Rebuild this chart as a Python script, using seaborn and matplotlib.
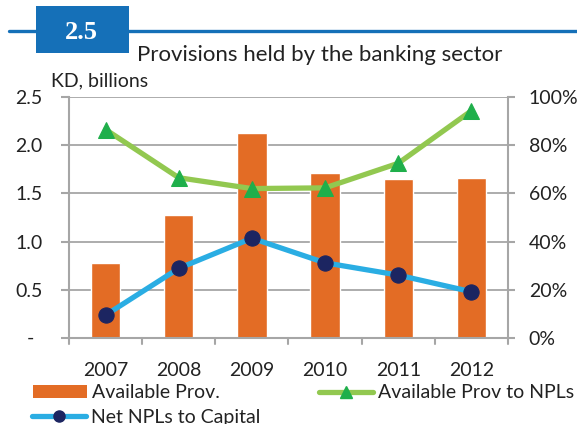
import matplotlib
matplotlib.use("Agg")
import matplotlib.pyplot as plt
import seaborn as sns
import pandas as pd
from matplotlib.patches import Rectangle
from matplotlib.lines import Line2D
from matplotlib.ticker import FuncFormatter

years = ["2007", "2008", "2009", "2010", "2011", "2012"]
available_prov = [0.78, 1.28, 2.13, 1.71, 1.65, 1.66]
prov_to_npls = [86.5, 66.5, 62.0, 62.3, 72.5, 94.3]
net_npls_to_capital = [9.5, 28.9, 41.4, 31.2, 26.1, 19.2]
left_ticks = [0.0, 0.5, 1.0, 1.5, 2.0, 2.5]
right_ticks = [0, 20, 40, 60, 80, 100]

df = pd.DataFrame({"year": years, "prov": available_prov,
                   "ratio": prov_to_npls, "npl": net_npls_to_capital})

sns.set_style("white")
FONT = "Lato"
plt.rcParams["font.family"] = [FONT, "DejaVu Sans"]

ORANGE = "#E36C25"
GREEN_L = "#92C850"
GREEN_M = "#1FAF4B"
BLUE_L = "#2AADE3"
NAVY = "#1C2561"
GRID = "#A6A6A6"
TXT = "#222222"
W, H = 577, 424

def fx(px):
    return px / W

def fy(py):
    return 1 - py / H

fig = plt.figure(figsize=(5.77, 4.24), dpi=100)
ax = fig.add_axes([fx(69), fy(338), (508 - 69) / W, (338 - 97) / H])

sns.barplot(data=df, x="year", y="prov", color=ORANGE, width=0.4,
            saturation=1, ax=ax, zorder=2)
ax.set_xlim(-0.5, 5.5)
ax.set_ylim(0, 2.5)
ax.set_yticks(left_ticks)
ax.set_yticklabels(["" if t == 0 else f"{t:.1f}" for t in left_ticks])
ax.grid(axis="y", color=GRID, linewidth=1.3, zorder=0)
ax.set_axisbelow(True)
ax.set_xlabel("")
ax.set_ylabel("")
# zero label shown as a dash, as in accounting format
fig.text(fx(30), fy(338), "-", fontsize=14, color=TXT, ha="center",
         va="center")

ax2 = ax.twinx()
sns.lineplot(data=df, x="year", y="ratio", ax=ax2, color=GREEN_L, linewidth=3.8,
             marker="^", markersize=11, markerfacecolor=GREEN_M,
             markeredgecolor=GREEN_M, zorder=3)
sns.lineplot(data=df, x="year", y="npl", ax=ax2, color=BLUE_L, linewidth=3.8,
             marker="o", markersize=11, markerfacecolor=NAVY,
             markeredgecolor=NAVY, zorder=3)
ax2.set_ylim(0, 100)
ax2.set_xlim(-0.5, 5.5)
ax2.set_yticks(right_ticks)
ax2.yaxis.set_major_formatter(FuncFormatter(lambda v, p: f"{v:.0f}%"))
ax2.set_ylabel("")

for a in (ax, ax2):
    for s in a.spines.values():
        s.set_visible(False)
ax.spines["left"].set_visible(True)
ax.spines["bottom"].set_visible(True)
ax2.spines["right"].set_visible(True)
for s in (ax.spines["left"], ax.spines["bottom"], ax2.spines["right"]):
    s.set_color(GRID)
    s.set_linewidth(1.5)

# x ticks at category boundaries
ax.set_xticks(range(6))
ax.set_xticklabels(years)
ax.tick_params(axis="x", length=0, pad=17, labelsize=14, labelcolor=TXT)
for b in [i - 0.5 for i in range(7)]:
    ax.plot([b, b], [0, -0.062], color=GRID, linewidth=1.5, clip_on=False,
            zorder=1)
ax.tick_params(axis="y", length=6, width=1.5, color=GRID, labelsize=14,
               labelcolor=TXT, pad=13, left=True)
ax2.tick_params(axis="y", length=5, width=1.5, color=GRID, labelsize=14,
                labelcolor=TXT, pad=10, right=True)

# Header block
fig.add_artist(Line2D([fx(9), 1.0], [fy(31), fy(31)], color="#1570B8",
                      linewidth=2.4, transform=fig.transFigure))
fig.add_artist(Rectangle((fx(36), fy(53)), (129 - 36) / W, (53 - 6) / H,
                         facecolor="#1570B8", edgecolor="none",
                         transform=fig.transFigure))
fig.text(fx(81.5), fy(39), "2.5", color="white", fontsize=19,
         fontweight="bold", family="Liberation Serif", ha="center",
         va="baseline")
fig.text(fx(137), fy(61), "Provisions held by the banking sector",
         fontsize=16, color=TXT, ha="left", va="baseline")
fig.text(fx(51), fy(86), "KD, billions", fontsize=14, color=TXT,
         ha="left", va="baseline")

# Legends
h_bar = Rectangle((0, 0), 1, 1, facecolor=ORANGE, edgecolor="none")
h_green = Line2D([], [], color=GREEN_L, linewidth=3.8, marker="^",
                 markersize=8, markerfacecolor=GREEN_M, markeredgecolor=GREEN_M)
h_blue = Line2D([], [], color=BLUE_L, linewidth=3.8, marker="o",
                markersize=8, markerfacecolor=NAVY, markeredgecolor=NAVY)
kw = dict(frameon=False, fontsize=14, handlelength=2.8, handleheight=0.62,
          handletextpad=0.25, borderaxespad=0, borderpad=0,
          labelcolor=TXT, loc="center left")
entries = [(h_bar, "Available Prov.", 33, 393),
           (h_blue, "Net NPLs to Capital", 32, 417),
           (h_green, "Available Prov to NPLs", 319, 393)]
for h, lab, x0, y0 in entries:
    fig.legend([h], [lab], bbox_to_anchor=(fx(x0), fy(y0)), **kw)

fig.savefig("out.png", dpi=100)
